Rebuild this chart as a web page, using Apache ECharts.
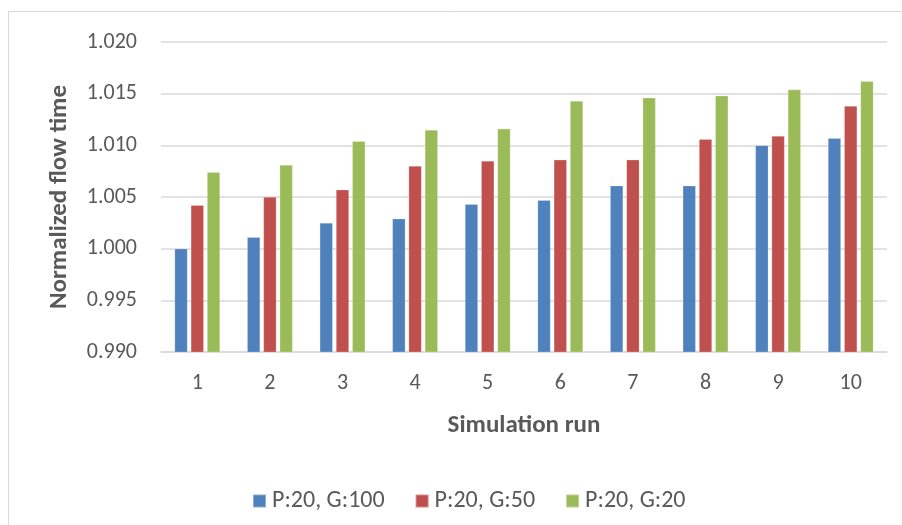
<!DOCTYPE html>
<html>
<head>
<meta charset="utf-8">
<script src="https://cdn.jsdelivr.net/npm/echarts@6/dist/echarts.min.js"></script>
<style>
  html, body { margin: 0; padding: 0; background: #fff; }
  #chart { width: 902px; height: 525px; }
</style>
</head>
<body>
<div id="chart"></div>
<script>
// Simulation runs on the category axis
const runs = ['1', '2', '3', '4', '5', '6', '7', '8', '9', '10'];

// Normalized flow time per configuration
const seriesNames = ['P:20, G:100', 'P:20, G:50', 'P:20, G:20'];
const g100 = [1.0000, 1.0011, 1.0025, 1.0029, 1.0043, 1.0047, 1.0061, 1.0061, 1.0100, 1.0107];
const g50  = [1.0042, 1.0050, 1.0057, 1.0080, 1.0085, 1.0086, 1.0086, 1.0106, 1.0109, 1.0138];
const g20  = [1.0074, 1.0081, 1.0104, 1.0115, 1.0116, 1.0143, 1.0146, 1.0148, 1.0154, 1.0162];

// Value axis range
const yMin = 0.990, yMax = 1.020, yStep = 0.005;

const colors = ['#4F81BD', '#C0504D', '#9BBB59'];
const textFont = 'Carlito, Calibri, Lato, "Open Sans", sans-serif';

const chart = echarts.init(document.getElementById('chart'), null, { renderer: 'canvas' });

const mkSeries = (name, data, i) => ({
  name,
  type: 'bar',
  data,
  barWidth: 13,
  barGap: '25%',
  itemStyle: { color: colors[i], borderColor: 'rgba(255,255,255,0.35)', borderWidth: 0.6 }
});

chart.setOption({
  animation: false,
  backgroundColor: '#ffffff',
  color: colors,
  graphic: [{
    type: 'rect',
    shape: { x: 8.5, y: 11.5, width: 910, height: 530 },
    style: { fill: 'none', stroke: '#d9d9d9', lineWidth: 1 },
    silent: true
  }],
  grid: { left: 161, right: 15, top: 42, bottom: 173, containLabel: false },
  legend: {
    data: seriesNames,
    top: 484,
    left: 247,
    padding: [5, 5, 5, 5],
    itemWidth: 13,
    itemHeight: 13,
    itemGap: 30,
    icon: 'rect',
    textStyle: { color: '#595959', fontSize: 24, fontFamily: textFont, padding: [0, 0, 0, 1] }
  },
  xAxis: {
    type: 'category',
    data: runs,
    name: 'Simulation run',
    nameLocation: 'middle',
    nameGap: 61,
    nameTextStyle: { color: '#595959', fontSize: 25, fontWeight: 'bold', fontFamily: textFont },
    axisLine: { lineStyle: { color: '#d9d9d9', width: 1.5 } },
    axisTick: { show: false },
    axisLabel: { color: '#595959', fontSize: 22, fontFamily: textFont, margin: 20 }
  },
  yAxis: {
    type: 'value',
    min: yMin,
    max: yMax,
    interval: yStep,
    name: 'Normalized flow time',
    nameLocation: 'middle',
    nameGap: 89,
    nameTextStyle: { color: '#595959', fontSize: 25, fontWeight: 'bold', fontFamily: textFont },
    axisLine: { show: false },
    axisTick: { show: false },
    splitLine: { lineStyle: { color: '#d9d9d9', width: 1.5 } },
    axisLabel: {
      color: '#595959',
      fontSize: 22,
      fontFamily: textFont,
      margin: 24,
      formatter: v => v.toFixed(3)
    }
  },
  series: [
    mkSeries(seriesNames[0], g100, 0),
    mkSeries(seriesNames[1], g50, 1),
    mkSeries(seriesNames[2], g20, 2)
  ]
});
</script>
</body>
</html>
